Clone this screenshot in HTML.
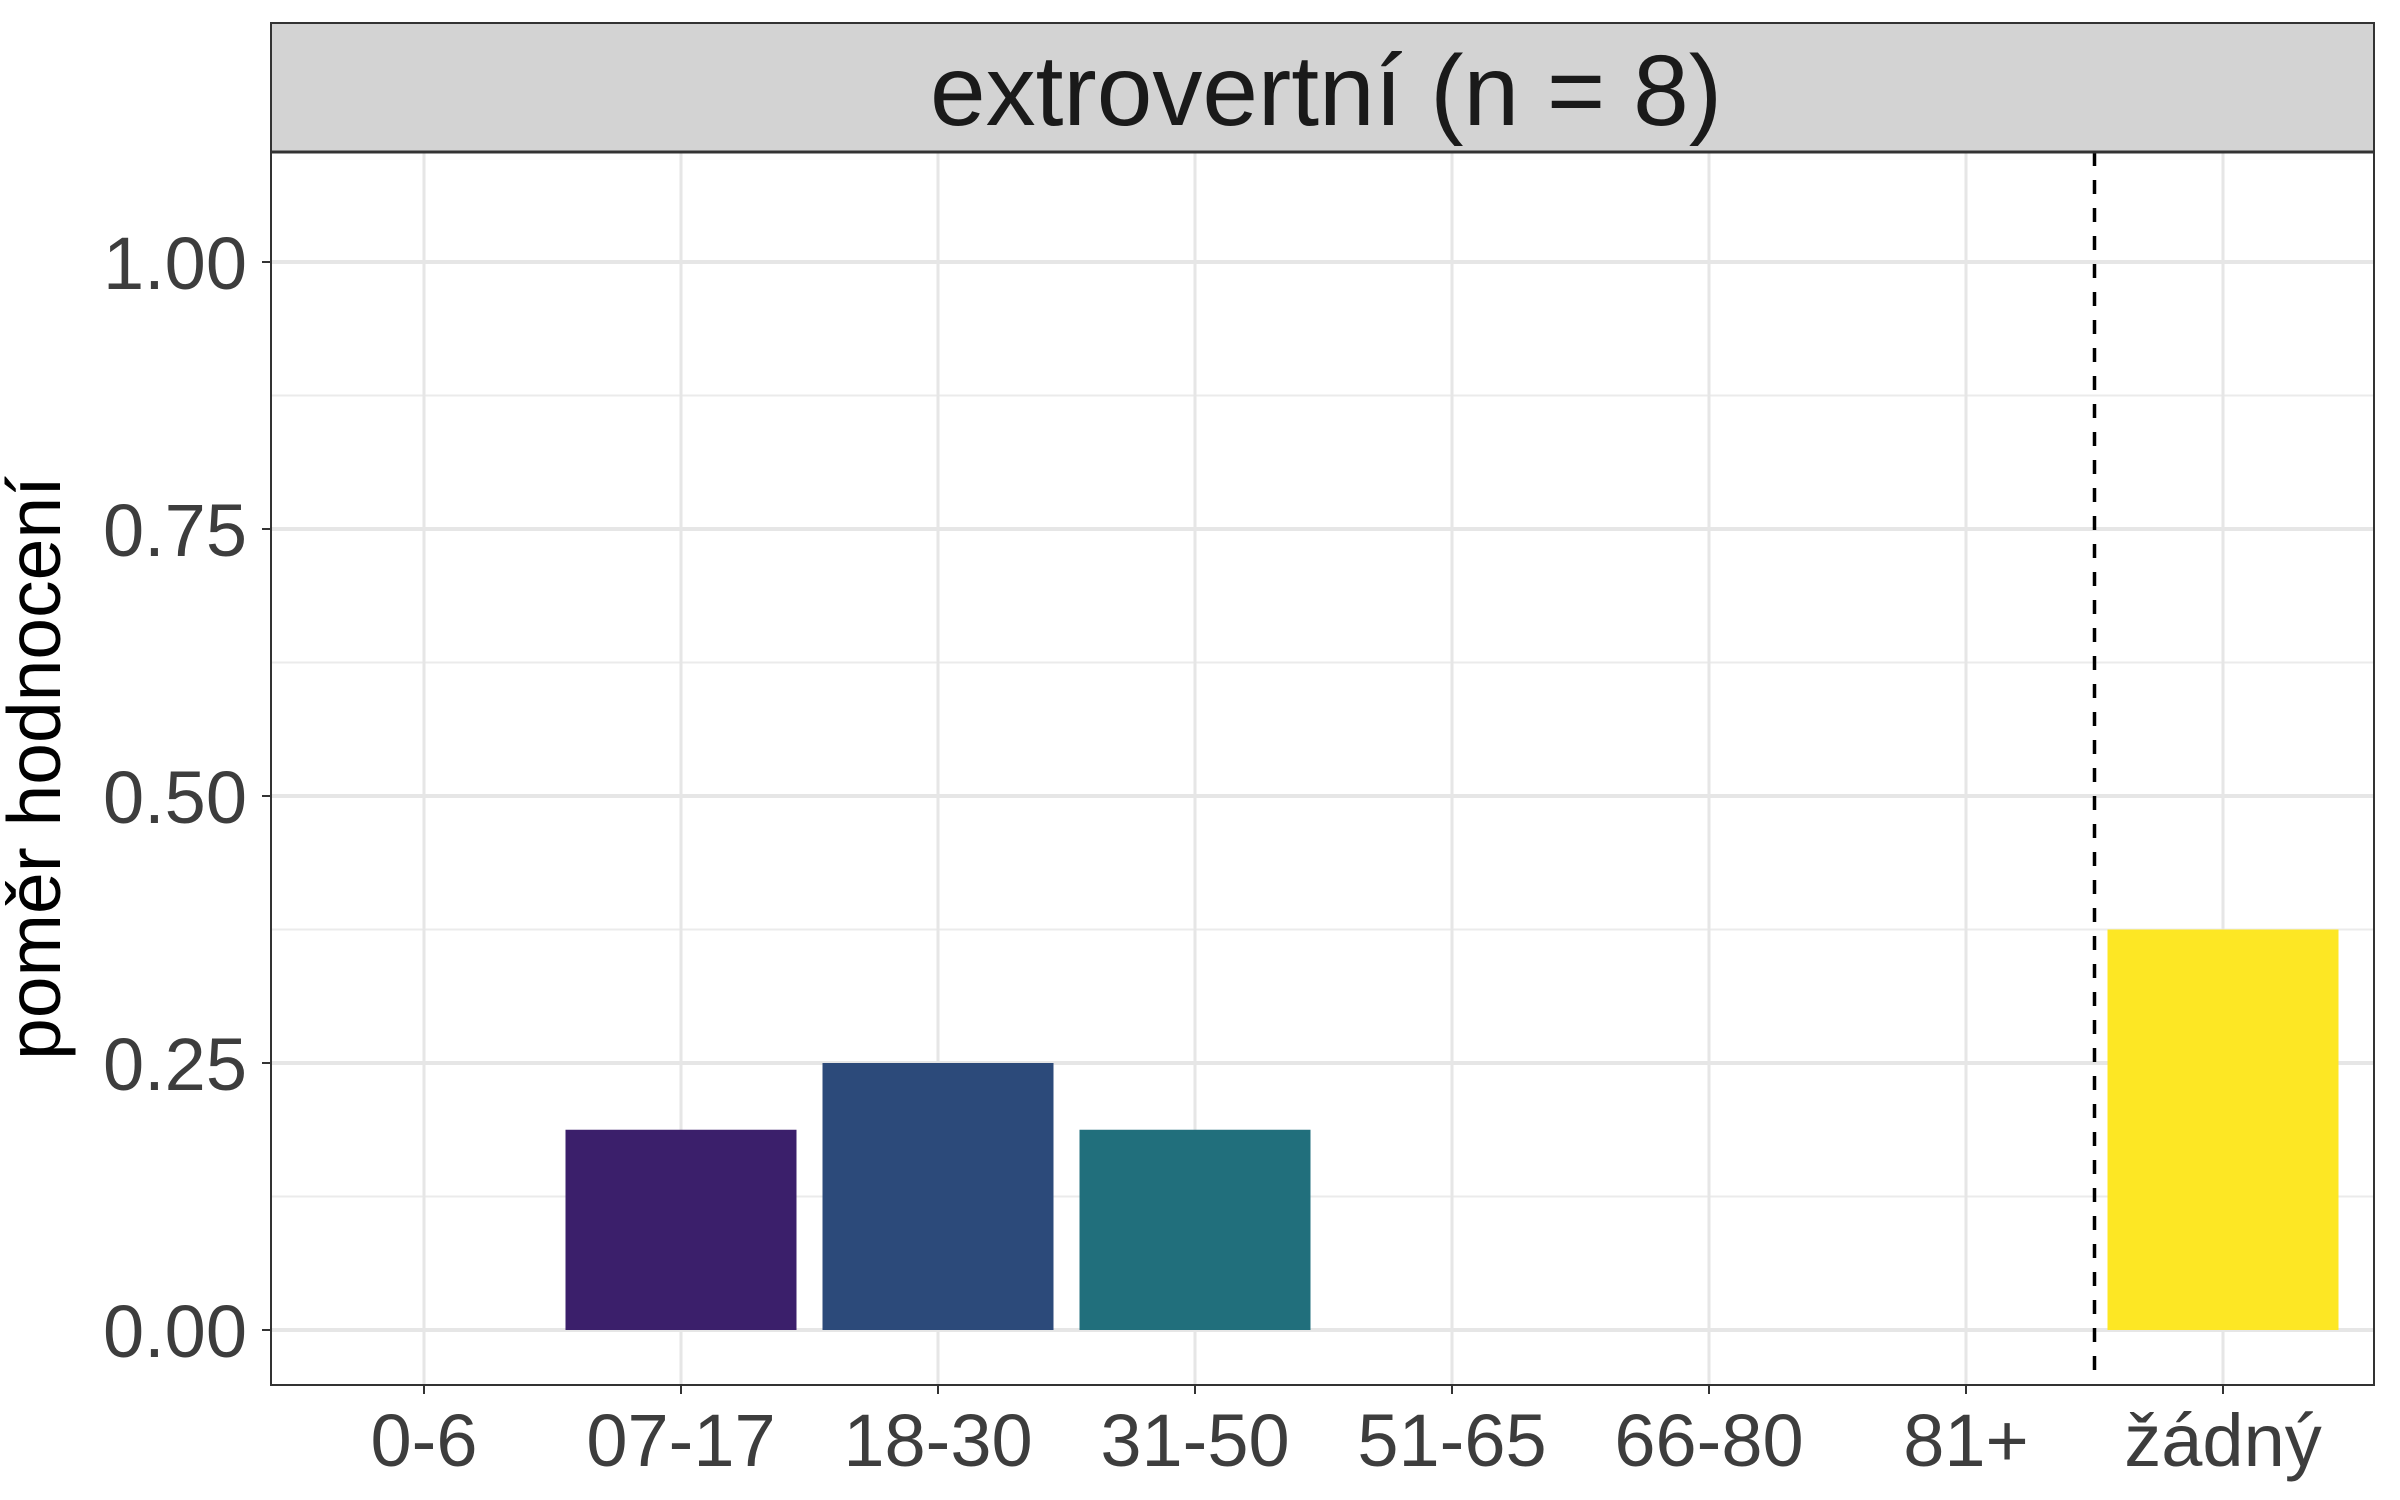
<!DOCTYPE html>
<html><head><meta charset="utf-8"><style>
body{margin:0;background:#fff}
svg{display:block;font-family:"Liberation Sans",sans-serif}
</style></head><body>
<svg id="chart" width="2400" height="1500" viewBox="0 0 2400 1500">
<g id="grid"></g>
<g id="bars"></g>
<line x1="2094.5" x2="2094.5" y1="152" y2="1385" stroke="#000" stroke-width="3.5" stroke-dasharray="14,14"/>
<rect x="271" y="152" width="2103" height="1233" fill="none" stroke="#333" stroke-width="2"/>
<rect x="271" y="23" width="2103" height="129" fill="#d3d3d3" stroke="#333" stroke-width="2"/>
<line x1="271" x2="2374" y1="152" y2="152" stroke="#333" stroke-width="3"/>
<text x="1326" y="125" font-size="100" text-anchor="middle" fill="#1a1a1a">extrovertní (n = 8)</text>
<g id="axes"></g>
<text transform="translate(60,768) rotate(-90)" font-size="75" text-anchor="middle" fill="#000">poměr hodnocení</text>
</svg>
<script>
const categories=["0-6","07-17","18-30","31-50","51-65","66-80","81+","žádný"];
const values=[0,0.1875,0.25,0.1875,0,0,0,0.375];
const colors=["#440154","#3b1f6b","#2c4a7a","#216f7c","#2a9b83","#55c167","#b8de29","#fde724"];
const yTicks=[0,0.25,0.5,0.75,1];
const yTickLabels=["0.00","0.25","0.50","0.75","1.00"];
const NS="http://www.w3.org/2000/svg";
function xPos(i){return 424+i*257;}
function yPos(v){return 1330-v*1068;}
const grid=document.getElementById('grid'),bars=document.getElementById('bars'),axes=document.getElementById('axes');
function mk(t,a,p){const e=document.createElementNS(NS,t);for(const k in a)e.setAttribute(k,a[k]);p.appendChild(e);return e;}
for(let k=0;k<yTicks.length;k++){
 const y=yPos(yTicks[k]);
 const l=mk('line',{x1:271,x2:2374,y1:y,y2:y,stroke:'#e6e6e6','stroke-width':4},grid);
 
 
 if(k<yTicks.length-1){const ym=yPos((yTicks[k]+yTicks[k+1])/2);
  const m=mk('line',{x1:271,x2:2374,y1:ym,y2:ym,stroke:'#ebebeb','stroke-width':2},grid);
  
  }
 const t=mk('line',{x1:262,x2:271,y1:y,y2:y,stroke:'#333','stroke-width':2},axes);
 
 
 const tx=mk('text',{x:247,y:y+27,'font-size':74,'text-anchor':'end',fill:'#3d3d3d'},axes);
 tx.textContent=yTickLabels[k];
 
 
}
for(let i=0;i<categories.length;i++){
 const x=xPos(i);
 const g=mk('line',{x1:x,x2:x,y1:152,y2:1385,stroke:'#e6e6e6','stroke-width':3},grid);
 
 
 if(values[i]>0){
  const r=mk('rect',{x:x-115.5,y:yPos(values[i]),width:231,height:yPos(0)-yPos(values[i]),fill:colors[i]},bars);
  
  
 }
 const t=mk('line',{x1:x,x2:x,y1:1385,y2:1394,stroke:'#333','stroke-width':2},axes);
 
 
 const tx=mk('text',{x:x,y:1466,'font-size':74,'text-anchor':'middle',fill:'#3d3d3d'},axes);
 tx.textContent=categories[i];
 
 
}
</script>
</body></html>
